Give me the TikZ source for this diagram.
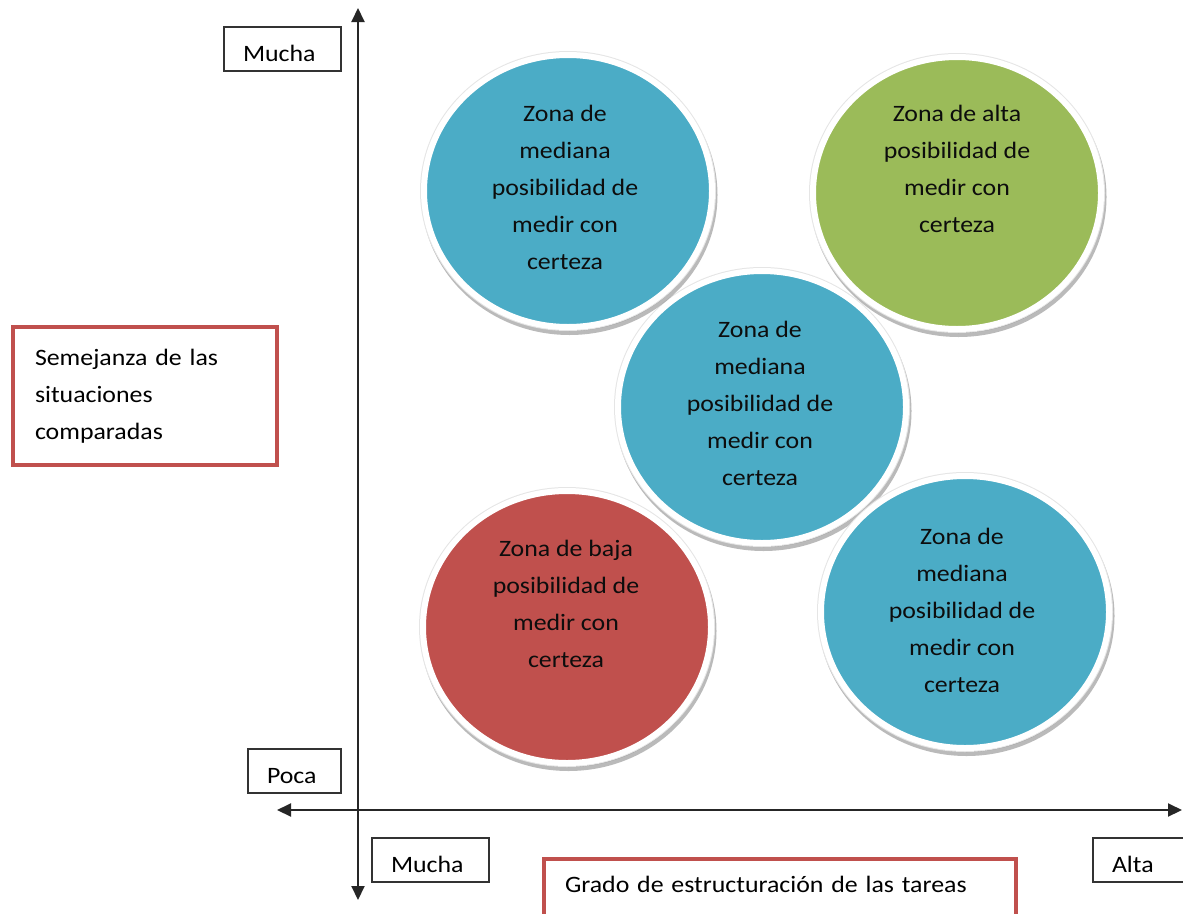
\documentclass[tikz,border=0pt]{standalone}
\usepackage{fontspec}
\setmainfont[FakeStretch=1.1]{Carlito}
\usetikzlibrary{arrows.meta,shapes.geometric,shadows}

\definecolor{zoneblue}{HTML}{4BACC6}
\definecolor{zonegreen}{HTML}{9BBB59}
\definecolor{zonered}{HTML}{C0504D}
\definecolor{framered}{HTML}{C0504D}
\newcommand\labelfont{\fontsize{23.5pt}{37pt}\selectfont}

\begin{document}
\begin{tikzpicture}[x=1pt,y=-1pt,
  every node/.style={font=\labelfont},
  zone/.style={ellipse, inner sep=0pt, minimum width=288pt, minimum height=272pt,
    fill=#1, draw=white, line width=6pt,
    general shadow={fill=black!60, draw=black!60, line width=8pt,
      shadow xshift=1.5pt, shadow yshift=-4pt, opacity=0.45},
    preaction={draw=black!10, line width=8pt}},
  zonetext/.style={align=center, text=black!95, inner sep=0pt},
  axisbox/.style={draw=black!80, line width=2pt, inner xsep=19pt, inner ysep=0pt,
    align=left, minimum height=44pt, text height=25pt, text depth=0pt},
  titlebox/.style={draw=framered, line width=4pt, inner ysep=0pt, align=left},
  axis/.style={draw=black!85, line width=2pt,
    {Triangle[length=14pt,width=13pt]}-{Triangle[length=14pt,width=13pt]}}
]
\useasboundingbox (0,0) rectangle (1183,913);
\fill[white] (0,0) rectangle (1183,913);
\begin{scope}
\clip (0,0) rectangle (1183,913);

% axes
\coordinate (ytop) at (358,8);
\coordinate (ybot) at (358,900);
\coordinate (xleft) at (277,810);
\coordinate (xright) at (1182,810);
\draw[axis] (ybot) -- (ytop);
\draw[axis] (xleft) -- (xright);

% axis end labels
\node[axisbox, text width=79pt] (ymax) at (282.5,49) {Mucha};
\node[axisbox, text width=55pt] (ymin) at (294.5,771) {Poca};
\node[axisbox, text width=79pt] (xmin) at (430.5,860) {Mucha};
\node[axisbox, text width=81pt] (xmax) at (1152.5,860) {Alta};

% axis titles
\node[titlebox, inner xsep=22pt, text width=220pt, minimum height=138pt] (ytitle) at (145,396)
  {Semejanza de las\\situaciones\\comparadas};
\node[titlebox, inner xsep=21pt, text width=430pt, minimum height=66pt,
  text height=12pt, text depth=12pt] (xtitle) at (780,892)
  {Grado de estructuración de las tareas};

% zones
\node[zone=zoneblue] (zc) at (762,407) {};
\node[zone=zoneblue] (ztl) at (568,191) {};
\node[zone=zonegreen] (ztr) at (957,193) {};
\node[zone=zonered] (zbl) at (567,627) {};
\node[zone=zoneblue] (zbr) at (965,612) {};

\node[zonetext] (tc) at (760,403) {Zona de\\mediana\\posibilidad de\\medir con\\certeza};
\node[zonetext] (ttl) at (565,187) {Zona de\\mediana\\posibilidad de\\medir con\\certeza};
\node[zonetext] (ttr) at (957,169) {Zona de alta\\posibilidad de\\medir con\\certeza};
\node[zonetext] (tbl) at (566,604) {Zona de baja\\posibilidad de\\medir con\\certeza};
\node[zonetext] (tbr) at (962,610) {Zona de\\mediana\\posibilidad de\\medir con\\certeza};
\end{scope}
\end{tikzpicture}
\end{document}
